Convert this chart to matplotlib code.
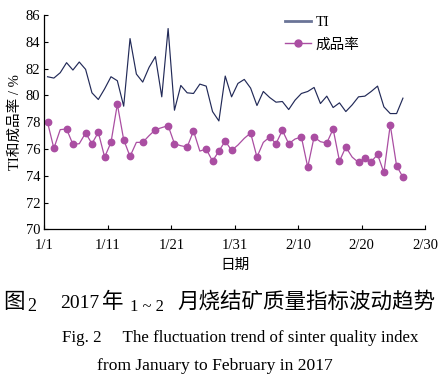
import numpy as np
import matplotlib
matplotlib.use("Agg")
import matplotlib.pyplot as plt
from matplotlib.lines import Line2D

plt.rcParams['font.family'] = ['Liberation Serif', 'Noto Sans CJK SC']
plt.rcParams['font.size'] = 10

# 1/1 .. 2/26, one value per day
ti = [81.4, 81.3, 81.7, 82.45, 81.9, 82.5, 81.95, 80.2, 79.7, 80.5,
      81.4, 81.1, 79.2, 84.25, 81.6, 81.0, 82.1, 82.9, 79.9, 85.0,
      78.9, 80.75, 80.2, 80.15, 80.85, 80.7, 78.8, 78.1, 81.45, 79.9,
      80.9, 81.2, 80.55, 79.25, 80.3, 79.85, 79.5, 79.55, 78.95, 79.65,
      80.15, 80.3, 80.6, 79.4, 79.95, 79.1, 79.45, 78.8, 79.3, 79.9,
      79.95, 80.3, 80.7, 79.15, 78.65, 78.65, 79.8]
yield_rate = [78.0, 76.05, 77.45, 77.5, 76.35, 76.4, 77.2, 76.4, 77.25, 75.4,
              76.5, 79.35, 76.7, 75.45, 76.5, 76.5, 77.0, 77.45, 77.6, 77.75,
              76.4, 76.25, 76.15, 77.35, 75.85, 76.0, 75.1, 75.85, 76.6, 75.9,
              76.3, 76.8, 77.2, 75.4, 76.5, 76.9, 76.4, 77.4, 76.4, 76.75,
              76.9, 74.65, 76.9, 76.55, 76.45, 77.5, 75.1, 76.15, 75.4, 75.0,
              75.3, 75.05, 75.6, 74.25, 77.8, 74.75, 73.9]
# days whose marker is missing in the original
no_marker = [2, 5, 14, 16, 18, 21, 24, 30, 31, 34, 39, 43, 48]
tick_labels = ['1/1', '1/11', '1/21', '1/31', '2/10', '2/20', '2/30']

days = np.arange(len(ti)) + 0.5
marked = [i for i in range(len(yield_rate)) if i not in no_marker]

c_ti = '#222a58'
c_yr = '#aa4ea2'

fig = plt.figure(figsize=(4.48, 3.83), dpi=100)
ax = fig.add_axes([0.099, 0.401, 0.85, 0.5595])

ax.plot(days, ti, color=c_ti, lw=0.85)
ax.plot(days, yield_rate, color=c_yr, lw=0.9, marker='o', markersize=4.6,
        markevery=marked)

ax.set_xlim(0, 60)
ax.set_ylim(70, 86)
ax.set_xticks(np.arange(0, 61, 10))
ax.set_xticklabels(tick_labels)
ax.set_yticks(np.arange(70, 87, 2))
ax.tick_params(direction='in', length=3, width=0.8, labelsize=10.5)
ax.tick_params(axis='x', pad=7)
ax.tick_params(axis='y', pad=3)
for s in ['top', 'right']:
    ax.spines[s].set_visible(False)
for s in ['left', 'bottom']:
    ax.spines[s].set_linewidth(0.9)

ax.set_xlabel('日期', fontsize=10.5, labelpad=5)
ax.set_ylabel('TI和成品率 / %', fontsize=10.5, labelpad=3)

handles = [Line2D([], [], color='#6a7497', lw=2),
           Line2D([], [], color=c_yr, lw=1, marker='o', markersize=5)]
ax.legend(handles, ['TI', '成品率'], loc='upper left', bbox_to_anchor=(0.612, 1.03),
          frameon=False, handlelength=1.8, handletextpad=0.3, labelspacing=0.6,
          borderpad=0, fontsize=10.5)

# caption
cy = 1 - 302 / 383
fig.text(3 / 448, cy, '图', fontsize=15.5, va='center', family='Noto Sans CJK SC')
fig.text(27 / 448, cy - 0.012, '2', fontsize=13, va='center')
fig.text(60 / 448, cy - 0.004, '2017', fontsize=14, va='center')
fig.text(102 / 448, cy, '年', fontsize=15.5, va='center', family='Noto Sans CJK SC')
fig.text(130 / 448, cy - 0.012, '1 ~ 2', fontsize=12, va='center')
fig.text(177 / 448, cy, '月烧结矿质量指标波动趋势', fontsize=15.5, va='center',
         family='Noto Sans CJK SC')
fig.text(62 / 448, 1 - 338 / 383, 'Fig. 2     The fluctuation trend of sinter quality index',
         fontsize=12.2, va='center')
fig.text(97 / 448, 1 - 366 / 383, 'from January to February in 2017',
         fontsize=12.6, va='center')

fig.savefig('out.png', dpi=100)
